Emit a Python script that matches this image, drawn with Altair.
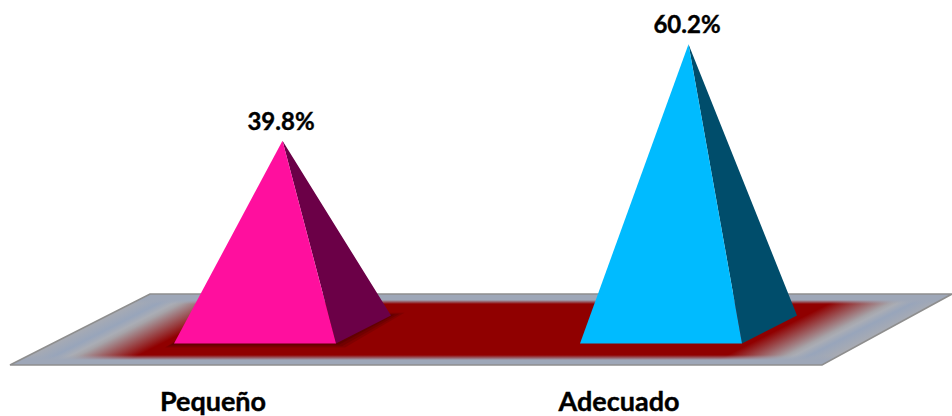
import altair as alt
import pandas as pd

categories = ["Pequeño", "Adecuado"]
values = [39.8, 60.2]
front_colors = ["#FF0F9E", "#00BBFF"]
side_colors = ["#6B0047", "#004D6B"]

WIDTH, HEIGHT = 952, 416
SLOT_PX = 406.0       # distance between the two pyramids
FIRST_SLOT_PX = 282.5
PCT_PX = 4.74         # pixels per percentage point
BASE_PX = 329.5       # centre of the pyramid bases, zero on the value scale


def ux(px):
    return (px - FIRST_SLOT_PX) / SLOT_PX


def uy(px):
    return (BASE_PX - px) / PCT_PX


x_scale = alt.Scale(domain=[ux(0), ux(WIDTH)], nice=False, zero=False)
y_scale = alt.Scale(domain=[uy(HEIGHT), uy(0)], nice=False, zero=False)


def polygon_rows(points):
    """Turn a convex polygon into the x / y / y2 rows an area mark needs."""
    rows = []
    n = len(points)
    for xs in sorted({p[0] for p in points}):
        hits = []
        for i in range(n):
            (x0, y0), (x1, y1) = points[i], points[(i + 1) % n]
            lo, hi = min(x0, x1), max(x0, x1)
            if lo <= xs <= hi:
                if x0 == x1:
                    hits += [y0, y1]
                else:
                    hits.append(y0 + (y1 - y0) * (xs - x0) / (x1 - x0))
        rows.append({"x": xs, "y": max(hits), "y2": min(hits)})
    return pd.DataFrame(rows)


def polygon(points, **mark_args):
    return (
        alt.Chart(polygon_rows(points))
        .mark_area(orient="vertical", interpolate="linear", **mark_args)
        .encode(
            x=alt.X("x:Q", scale=x_scale, axis=None),
            y=alt.Y("y:Q", scale=y_scale, axis=None),
            y2="y2:Q",
        )
    )


def px_poly(points):
    return [(ux(a), uy(b)) for a, b in points]


# Floor slab: slanted ends carry a grey stripe that fades into the dark red centre
FLOOR = [(10, 365), (150, 294), (952, 294), (822, 365)]
LEFT_T, RIGHT_T, SPAN = 0.1454, 0.984, 812.0
GREY_STOPS = [(0, "#A8ABB3"), (27, "#98A5BB"), (42, "#AAADB5"), (50, "#A6A3A8"), (110, "#900000")]


def floor_t(dist):
    return LEFT_T + dist / SPAN * (RIGHT_T - LEFT_T)


floor_stops = [alt.GradientStop(color=c, offset=round(floor_t(d), 4)) for d, c in GREY_STOPS]
floor_stops += [
    alt.GradientStop(color=c, offset=round(floor_t(SPAN - d), 4)) for d, c in reversed(GREY_STOPS)
]
floor_fill = alt.LinearGradient(
    gradient="linear", stops=floor_stops, x1=0, y1=0, x2=1, y2=round(140 / 942, 4)
)


def edge_x(y):
    left = 150 - (y - 294) * 140 / 71
    right = 952 - (y - 294) * 130 / 71
    return left, right


def band(y_top, y_bottom):
    lt, rt = edge_x(y_top)
    lb, rb = edge_x(y_bottom)
    return px_poly([(lb, y_bottom), (lt, y_top), (rt, y_top), (rb, y_bottom)])


BAND_GREY = "rgba(158,167,184,1)"
BAND_CLEAR = "rgba(158,167,184,0)"
top_band_fill = alt.LinearGradient(
    gradient="linear",
    stops=[
        alt.GradientStop(color=BAND_GREY, offset=0),
        alt.GradientStop(color=BAND_GREY, offset=0.6),
        alt.GradientStop(color=BAND_CLEAR, offset=1),
    ],
    x1=0, y1=0, x2=0, y2=1,
)
bottom_band_fill = alt.LinearGradient(
    gradient="linear",
    stops=[
        alt.GradientStop(color=BAND_CLEAR, offset=0),
        alt.GradientStop(color=BAND_GREY, offset=0.5),
        alt.GradientStop(color=BAND_GREY, offset=1),
    ],
    x1=0, y1=0, x2=0, y2=1,
)

layers = [
    polygon(px_poly(FLOOR), fill=floor_fill),
    polygon(band(294, 304), fill=top_band_fill),
    polygon(band(355, 365), fill=bottom_band_fill),
    polygon(px_poly(FLOOR), fill="transparent", stroke="#8E8E8E", strokeWidth=1.6),
]

# Soft shadow around the first pyramid's base
for grow, alpha in [(9, 0.18), (6, 0.22), (3, 0.28)]:
    layers.append(
        polygon(
            px_poly([
                (174 - grow, 343.5 + grow * 0.45),
                (229 - grow, 315.5 - grow * 0.3),
                (390 + grow * 1.6, 315.5 - grow * 0.3),
                (336 + grow, 343.5 + grow * 0.45),
            ]),
            fill="#3A0000",
            fillOpacity=alpha,
        )
    )

# One pyramid per category: the apex height comes straight from the value
FRONT_LEFT_PX, FRONT_W_PX, DEPTH_X_PX, DEPTH_Y_PX = 108.5, 162.0, 55.0, 14.0
for i, value in enumerate(values):
    fl = (i - FRONT_LEFT_PX / SLOT_PX, -DEPTH_Y_PX / PCT_PX)
    fr = (fl[0] + FRONT_W_PX / SLOT_PX, fl[1])
    br = (fr[0] + DEPTH_X_PX / SLOT_PX, DEPTH_Y_PX / PCT_PX)
    apex = (float(i), value)
    layers.append(polygon([apex, br, fr], fill=side_colors[i]))
    layers.append(polygon([fl, apex, fr], fill=front_colors[i]))

labels = pd.DataFrame(
    {
        "slot": list(range(len(categories))),
        "category": categories,
        "value": values,
        "text": [f"{v:.1f}%" for v in values],
    }
)
FONT = "Lato"
layers.append(
    alt.Chart(labels)
    .mark_text(font=FONT, fontWeight="bold", fontSize=24, color="#000000",
               stroke="#000000", strokeWidth=0.4, dx=-1.5, dy=-18)
    .encode(
        x=alt.X("slot:Q", scale=x_scale, axis=None),
        y=alt.Y("value:Q", scale=y_scale, axis=None),
        text="text:N",
    )
)
layers.append(
    alt.Chart(labels)
    .mark_text(font=FONT, fontWeight="bold", fontSize=27, color="#000000",
               stroke="#000000", strokeWidth=0.4, dx=-69.5)
    .encode(
        x=alt.X("slot:Q", scale=x_scale, axis=None),
        y=alt.value(403),
        text="category:N",
    )
)

chart = (
    alt.layer(*layers)
    .properties(width=WIDTH, height=HEIGHT, padding=0, background="#FFFFFF",
                autosize=alt.AutoSizeParams(type="none"))
    .configure_view(stroke=None)
)

chart.save("out.html", embed_options={"renderer": "svg", "actions": False})
